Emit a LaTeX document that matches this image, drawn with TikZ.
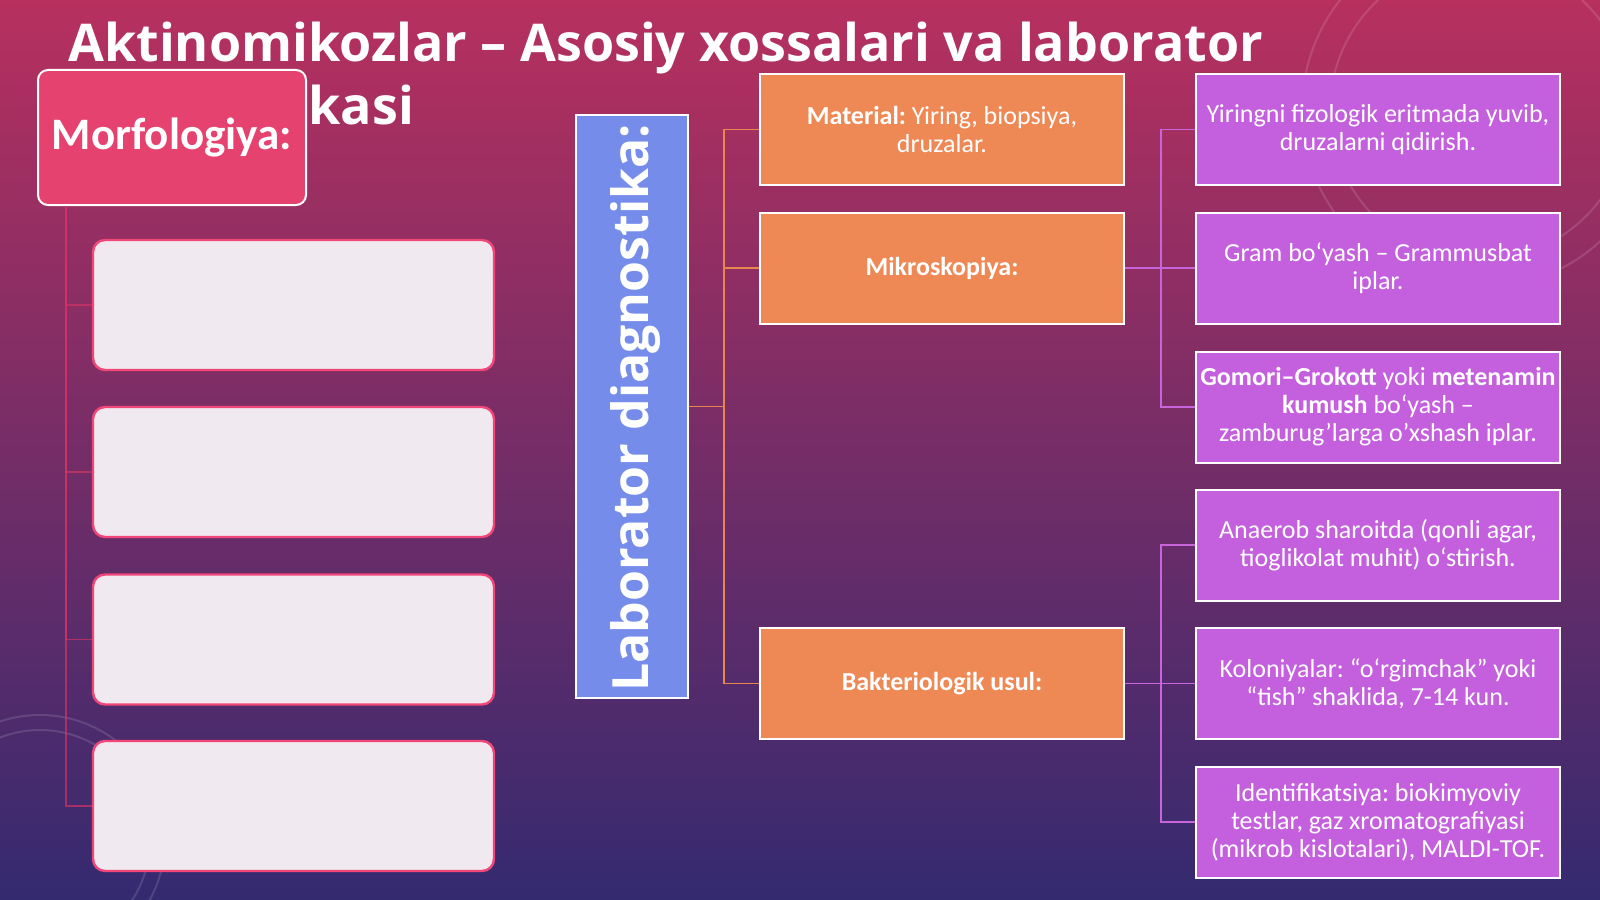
\documentclass[tikz,border=0pt]{standalone}
\usepackage{fontspec}
\setmainfont{Carlito}
\newfontfamily\headfont{Open Sans}
\usetikzlibrary{positioning,calc}
\definecolor{bgtop}{RGB}{183,48,94}
\definecolor{bgmid}{RGB}{122,44,110}
\definecolor{bgbot}{RGB}{52,42,112}
\definecolor{morffill}{RGB}{229,66,111}
\definecolor{paper}{RGB}{240,234,240}
\definecolor{pinkedge}{RGB}{240,70,120}
\definecolor{labfill}{RGB}{118,140,235}
\definecolor{orfill}{RGB}{238,137,86}
\definecolor{pufill}{RGB}{196,96,222}
\definecolor{orline}{RGB}{233,134,80}
\definecolor{puline}{RGB}{200,100,220}
\definecolor{pkline}{RGB}{210,50,100}
\frenchspacing

\begin{document}
\begin{tikzpicture}[x=0.5pt, y=-0.5pt, every node/.style={text=white, inner sep=2pt},
  morfbox/.style={draw=white, line width=1pt, rounded corners=5pt, fill=morffill, minimum width=134pt, minimum height=67.5pt, font=\bfseries\fontsize{22.5}{26}\selectfont},
  whitebox/.style={draw=pinkedge, line width=1.2pt, rounded corners=6pt, fill=paper, minimum width=200.5pt, minimum height=65pt},
  labbox/.style={draw=white, line width=1pt, fill=labfill, minimum width=56pt, minimum height=291.5pt},
  orbox/.style={draw=white, line width=1pt, fill=orfill, minimum width=182pt, minimum height=55.5pt, align=center, font=\fontsize{13}{14}\selectfont},
  pubox/.style={orbox, fill=pufill},
  fadeline/.style={white, opacity=.13, line width=1pt}]

\useasboundingbox (0,0) rectangle (1600,899);
\shade[top color=bgtop, middle color=bgmid, bottom color=bgbot] (0,0) rectangle (1600,899);
\draw[fadeline] (1480,110) circle (150);
\draw[fadeline] (1480,110) circle (178);
\draw[fadeline] (40,840) circle (125);
\draw[fadeline] (40,840) circle (110);

\node[anchor=north west, inner sep=0, align=left, font=\headfont\bfseries\fontsize{26}{31.5}\selectfont] (title) at (68,22)
  {Aktinomikozlar – Asosiy xossalari va laborator\\diagnostikasi};

\node[morfbox] (morf) at (172,137.5) {Morfologiya:};
\node[whitebox] (w1) at (293.5,305) {};
\node[whitebox] (w2) at (293.5,472) {};
\node[whitebox] (w3) at (293.5,639.5) {};
\node[whitebox] (w4) at (293.5,806) {};

\coordinate (spine) at (66,0);
\foreach \w in {w1,w2,w3,w4}
  \draw[pkline, opacity=.7, line width=.8pt] (morf.south -| spine) |- (\w.west);

\node[labbox] (lab) at (632,406.5) {};
\node[rotate=90, font=\headfont\bfseries\fontsize{25}{28}\selectfont] (labtxt) at (636,408) {Laborator diagnostika:};

\node[orbox] (mat) at (942,129.5) {\textbf{Material:} Yiring, biopsiya,\\druzalar.};
\node[orbox] (mikro) at (942,268) {\textbf{Mikroskopiya:}};
\node[orbox] (bakt) at (942,683.5) {\textbf{Bakteriologik usul:}};

\node[pubox] (p1) at (1378,129.5) {Yiringni fizologik eritmada yuvib,\\druzalarni qidirish.};
\node[pubox] (p2) at (1378,268) {Gram bo‘yash – Grammusbat\\iplar.};
\node[pubox] (p3) at (1378,407) {\textbf{Gomori–Grokott} yoki \textbf{metenamin}\\\textbf{kumush} bo‘yash –\\zamburug’larga o’xshash iplar.};
\node[pubox] (p4) at (1378,545) {Anaerob sharoitda (qonli agar,\\tioglikolat muhit) o‘stirish.};
\node[pubox] (p5) at (1378,683.5) {Koloniyalar: “o‘rgimchak” yoki\\“tish” shaklida, 7-14 kun.};
\node[pubox] (p6) at (1378,822) {Identifikatsiya: biokimyoviy\\testlar, gaz xromatografiyasi\\(mikrob kislotalari), MALDI-TOF.};

\foreach \o in {mat,mikro,bakt}
  \draw[orline, line width=.8pt] (lab.east) -- ++(35,0) |- (\o.west);
\foreach \p in {p1,p2,p3}
  \draw[puline, line width=.8pt] (mikro.east) -- ++(36,0) |- (\p.west);
\foreach \p in {p4,p5,p6}
  \draw[puline, line width=.8pt] (bakt.east) -- ++(36,0) |- (\p.west);
\end{tikzpicture}
\end{document}
